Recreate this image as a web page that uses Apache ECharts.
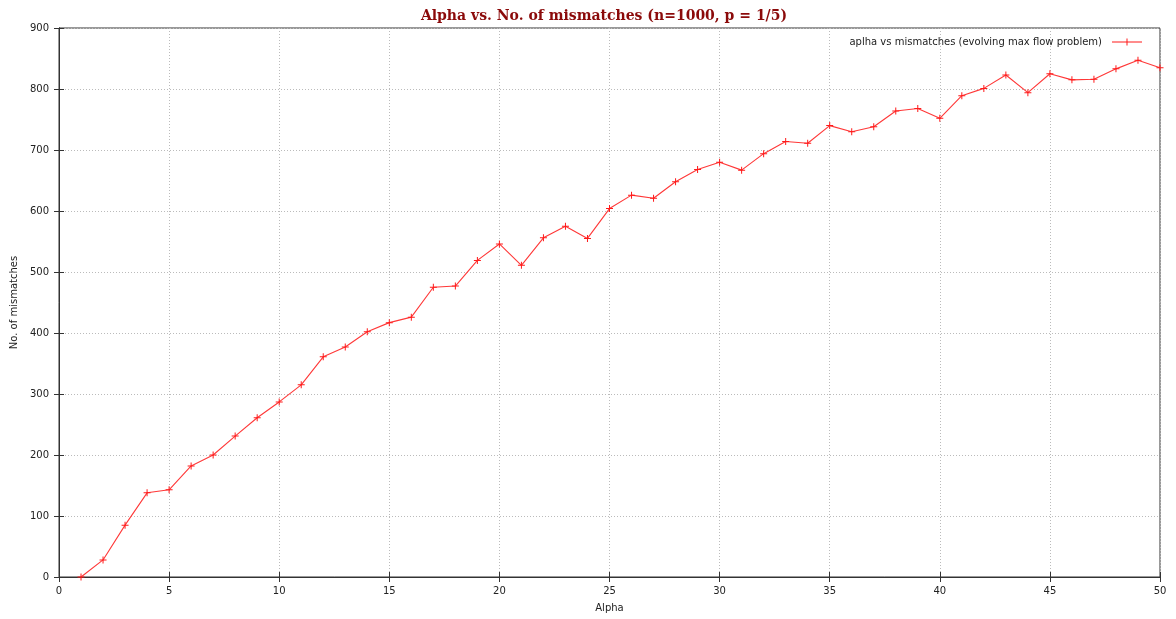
<!DOCTYPE html>
<html>
<head>
<meta charset="utf-8">
<script src="https://cdn.jsdelivr.net/npm/echarts@6/dist/echarts.min.js"></script>
<style>
  html, body { margin: 0; padding: 0; background: #ffffff; }
  #chart { width: 1176px; height: 619px; }
</style>
</head>
<body>
<div id="chart"></div>
<script>
// Alpha values (x) and the number of mismatches observed for each
const alphaValues = [1, 2, 3, 4, 5, 6, 7, 8, 9, 10,
  11, 12, 13, 14, 15, 16, 17, 18, 19, 20,
  21, 22, 23, 24, 25, 26, 27, 28, 29, 30,
  31, 32, 33, 34, 35, 36, 37, 38, 39, 40,
  41, 42, 43, 44, 45, 46, 47, 48, 49, 50];
const mismatches = [0, 28, 85, 138, 143, 182, 200, 231, 261, 287,
  315, 361, 377, 402, 417, 426, 475, 477, 519, 546,
  511, 556, 575, 555, 604, 626, 621, 648, 668, 680,
  667, 694, 714, 711, 740, 730, 738, 764, 768, 752,
  789, 801, 823, 794, 825, 815, 816, 833, 847, 835];

const seriesName = 'aplha vs mismatches (evolving max flow problem)';
const chartTitle = 'Alpha vs. No. of mismatches (n=1000, p = 1/5)';

const points = alphaValues.map((a, i) => [a, mismatches[i]]);

// thin "+" marker, and a legend sample: a line with one "+" in its middle
const plusMarker = 'path://M3,0H4V3H7V4H4V7H3V4H0V3H3Z';
const legendSample = 'path://M0,3H14.5V0H15.5V3H30V4H15.5V7H14.5V4H0Z';
const lineRed = '#ff3838';
const axisDark = '#333333';
const gridGrey = '#bbbbbb';
const labelFont = { color: '#222222', fontFamily: 'DejaVu Sans', fontSize: 10 };

const chart = echarts.init(document.getElementById('chart'), null, { renderer: 'canvas' });

chart.setOption({
  backgroundColor: '#ffffff',
  animation: false,
  title: {
    text: chartTitle,
    left: 599,
    top: 4,
    textAlign: 'center',
    textStyle: {
      fontFamily: 'DejaVu Serif',
      fontWeight: 'bold',
      fontSize: 14,
      color: '#8b0a0a'
    }
  },
  legend: {
    right: 29,
    top: 32,
    itemWidth: 30,
    itemHeight: 7,
    itemGap: 0,
    align: 'right',
    textStyle: { color: '#222222', fontFamily: 'DejaVu Sans', fontSize: 10, padding: [0, 5, 0, 0] },
    data: [{ name: seriesName, icon: legendSample }]
  },
  grid: {
    left: 59,
    right: 16,
    top: 28,
    bottom: 42,
    show: true,
    borderColor: axisDark,
    borderWidth: 1
  },
  xAxis: [{
    type: 'value',
    min: 0,
    max: 50,
    interval: 5,
    name: 'Alpha',
    nameLocation: 'middle',
    nameGap: 26,
    nameTextStyle: labelFont,
    axisLine: { show: true, lineStyle: { color: axisDark, width: 1 } },
    axisTick: { show: true, inside: true, length: 5, lineStyle: { color: axisDark } },
    axisLabel: Object.assign({ margin: 9 }, labelFont),
    splitLine: { show: true, lineStyle: { color: gridGrey, type: [1, 2], width: 1 } }
  }, {
    type: 'value',
    position: 'top',
    min: 0,
    max: 50,
    interval: 5,
    axisLine: { show: true, lineStyle: { color: axisDark } },
    axisTick: { show: true, inside: true, length: 5, lineStyle: { color: axisDark } },
    axisLabel: { show: false },
    splitLine: { show: false }
  }],
  yAxis: [{
    type: 'value',
    min: 0,
    max: 900,
    interval: 100,
    name: 'No. of mismatches',
    nameLocation: 'middle',
    nameGap: 40,
    nameRotate: 90,
    nameTextStyle: labelFont,
    axisLine: { show: true, lineStyle: { color: axisDark, width: 1 } },
    axisTick: { show: true, inside: true, length: 5, lineStyle: { color: axisDark } },
    axisLabel: Object.assign({ margin: 10 }, labelFont),
    splitLine: { show: true, lineStyle: { color: gridGrey, type: [1, 2], width: 1 } }
  }, {
    type: 'value',
    position: 'right',
    min: 0,
    max: 900,
    interval: 100,
    axisLine: { show: true, lineStyle: { color: axisDark } },
    axisTick: { show: true, inside: true, length: 5, lineStyle: { color: axisDark } },
    axisLabel: { show: false },
    splitLine: { show: false }
  }],
  series: [{
    name: seriesName,
    type: 'line',
    xAxisIndex: 0,
    yAxisIndex: 0,
    data: points,
    symbol: plusMarker,
    symbolSize: 7,
    showAllSymbol: true,
    lineStyle: { color: lineRed, width: 1.1 },
    itemStyle: { color: '#ff1a1a' }
  }]
});
</script>
</body>
</html>
